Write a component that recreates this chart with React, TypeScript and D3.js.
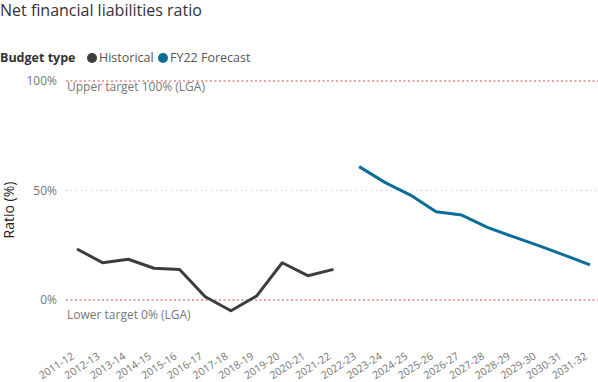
import React from "react";
import * as d3 from "d3";

const categories = [
  "2011-12","2012-13","2013-14","2014-15","2015-16","2016-17","2017-18","2018-19","2019-20","2020-21","2021-22",
  "2022-23","2023-24","2024-25","2025-26","2026-27","2027-28","2028-29","2029-30","2030-31","2031-32",
];
const historicalYears = categories.slice(0, 11);
const historicalValues = [23.3, 17.0, 18.6, 14.5, 13.9, 1.5, -4.9, 1.8, 17.0, 11.1, 14.0];
const forecastYears = categories.slice(11);
const forecastValues = [60.9, 53.7, 47.9, 40.3, 38.8, 33.2, 28.9, 24.8, 20.5, 16.0];
const yTicks = [0, 50, 100];
const upperTarget = 100;
const lowerTarget = 0;

const W = 598, H = 382;
const FONT = "'Segoe UI', 'Open Sans', 'Noto Sans', sans-serif";

export default function App() {
  const x = d3.scalePoint<string>().domain(categories).range([77, 590]);
  const y = d3.scaleLinear().domain([0, 100]).range([300, 81]);
  const line = d3.line<[string, number]>().x(d => x(d[0])!).y(d => y(d[1]));
  const hist = historicalYears.map((c, i) => [c, historicalValues[i]] as [string, number]);
  const fc = forecastYears.map((c, i) => [c, forecastValues[i]] as [string, number]);
  return (
    <svg width={W} height={H} style={{ position: "absolute", left: 0, top: 0, fontFamily: FONT }}>
      <text x={0} y={16} fontSize={16} fill="#333" fontWeight={400}>Net financial liabilities ratio</text>
      <g fontSize={12.5}>
        <text x={0} y={62} fontWeight={700} fill="#333">Budget type</text>
        <circle cx={92} cy={58} r={5} fill="#3D3D3D" />
        <text x={99} y={62} fill="#555">Historical</text>
        <circle cx={163} cy={58} r={5} fill="#0B6E99" />
        <text x={170} y={62} fill="#555">FY22 Forecast</text>
      </g>
      {yTicks.map(t => (
        <g key={t}>
          <line x1={66} x2={W} y1={y(t)} y2={y(t)}
            stroke={t === upperTarget || t === lowerTarget ? "#E8A3A3" : "#C8C8C8"}
            strokeWidth={t === upperTarget || t === lowerTarget ? 2 : 1}
            strokeDasharray={t === upperTarget || t === lowerTarget ? "2 2.5" : "1 4"} />
          <text x={57} y={y(t)} dy="0.35em" textAnchor="end" fontSize={12} fill="#777">{t}%</text>
        </g>
      ))}
      <text x={67} y={y(upperTarget) + 10} fontSize={12} fill="#777">Upper target 100% (LGA)</text>
      <text x={67} y={y(lowerTarget) + 19} fontSize={12} fill="#777">Lower target 0% (LGA)</text>
      <text transform={`translate(14,210) rotate(-90)`} textAnchor="middle" fontSize={14} fill="#252423">Ratio (%)</text>
      <path d={line(hist)!} fill="none" stroke="#3D3D3D" strokeWidth={3} strokeLinejoin="round" />
      <path d={line(fc)!} fill="none" stroke="#0B6E99" strokeWidth={3} strokeLinejoin="round" />
      {categories.map(c => (
        <text key={c} transform={`translate(${x(c)! - 2},358) rotate(-33)`} textAnchor="end" fontSize={10.5} fill="#777">{c}</text>
      ))}
    </svg>
  );
}
